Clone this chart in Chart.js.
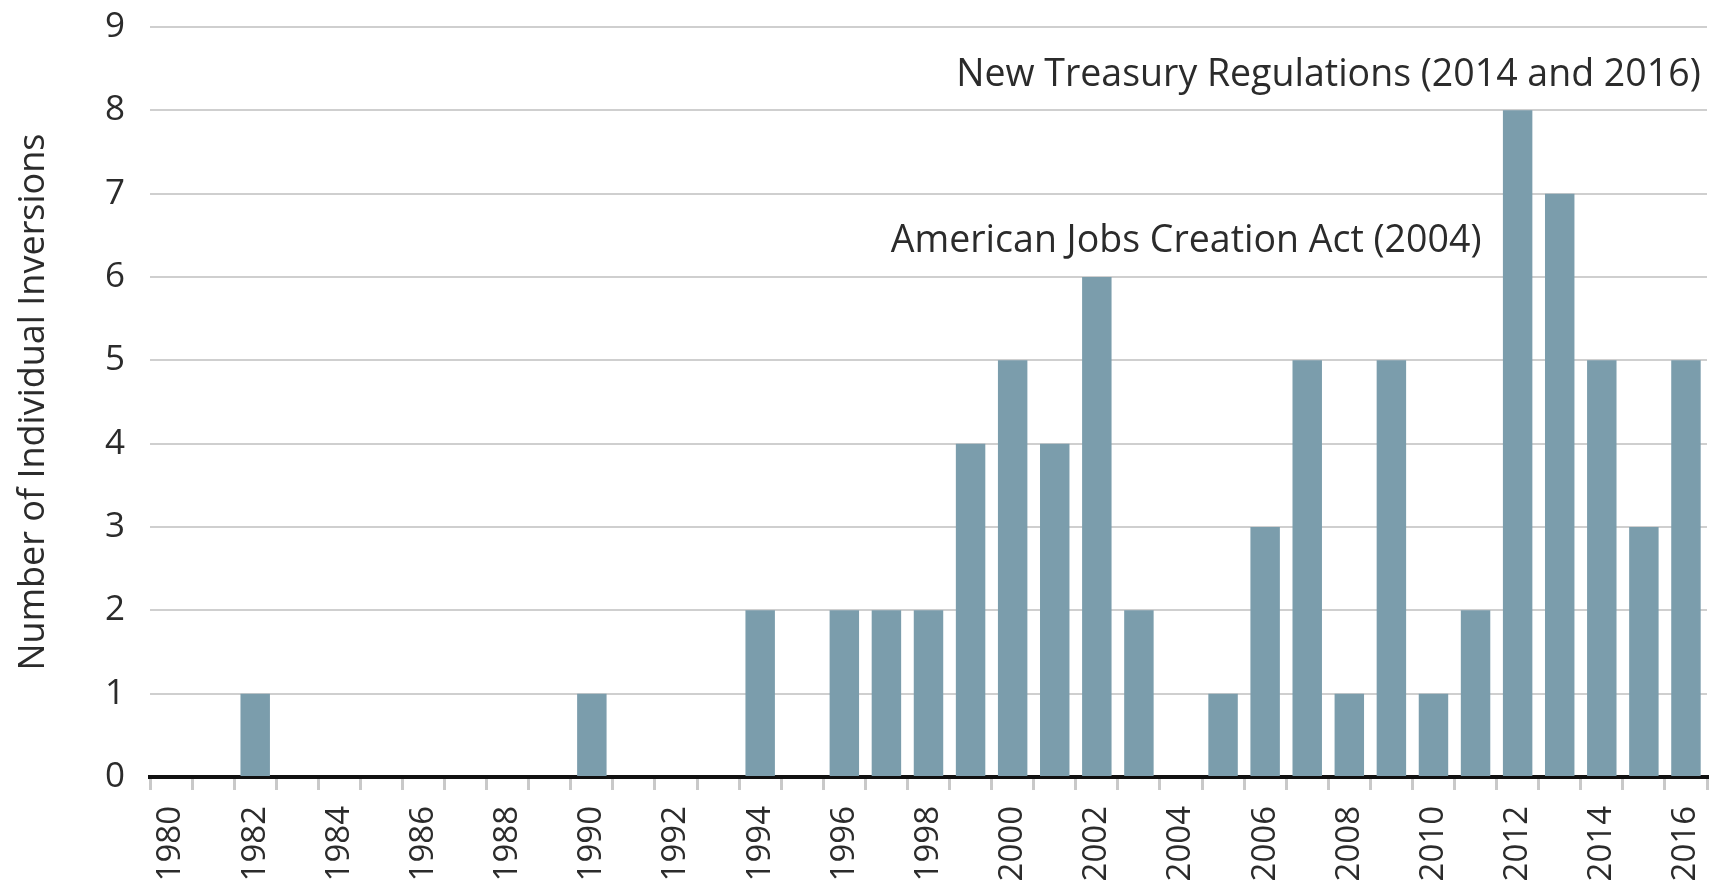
<!DOCTYPE html>
<html>
<head>
<meta charset="utf-8">
<script src="https://cdn.jsdelivr.net/npm/chart.js@4"></script>
<style>
  html, body { margin: 0; padding: 0; background: #fff; }
  canvas { display: block; }
</style>
</head>
<body>
<canvas id="chart" width="1719" height="895"></canvas>
<script>
// Inversions per year
const years = [];
for (let y = 1980; y <= 2016; y++) years.push(String(y));
const inversions = [
  0, 0, 1, 0, 0, 0, 0, 0, 0, 0,   // 1980-1989
  1, 0, 0, 0, 2, 0, 2, 2, 2, 4,   // 1990-1999
  5, 4, 6, 2, 0, 1, 3, 5, 1, 5,   // 2000-2009
  1, 2, 8, 7, 5, 3, 5             // 2010-2016
];
const yTicks = [0, 1, 2, 3, 4, 5, 6, 7, 8, 9];

// Text notes: label, right edge (category index), baseline (y value)
const noteLabels = ["New Treasury Regulations (2014 and 2016)", "American Jobs Creation Act (2004)"];
const noteX = [36.35, 31.14];
const noteY = [8.29, 6.3];

const textColor = "#2b2b2b";
const fontFamily = "'Open Sans', sans-serif";

const notesPlugin = {
  id: "notes",
  afterDatasetsDraw(chart) {
    const ctx = chart.ctx;
    const xs = chart.scales.x, ys = chart.scales.y;
    ctx.save();
    ctx.font = "400 37.5px " + fontFamily;
    ctx.fillStyle = textColor;
    ctx.textAlign = "right";
    ctx.textBaseline = "alphabetic";
    noteLabels.forEach((label, i) => {
      ctx.fillText(label, xs.getPixelForValue(noteX[i]), ys.getPixelForValue(noteY[i]));
    });
    ctx.restore();
  }
};

new Chart(document.getElementById("chart"), {
  type: "bar",
  data: {
    labels: years,
    datasets: [{
      data: inversions,
      backgroundColor: "rgb(123,157,172)",
      barPercentage: 0.7,
      categoryPercentage: 1.0
    }]
  },
  options: {
    responsive: false,
    animation: false,
    devicePixelRatio: 1,
    layout: { padding: { top: 27, right: 12, left: 0, bottom: 0 } },
    plugins: { legend: { display: false }, tooltip: { enabled: false } },
    scales: {
      x: {
        grid: {
          offset: true,
          drawOnChartArea: false,
          drawTicks: true,
          tickLength: 13,
          color: "#c9c9c9",
          lineWidth: 3
        },
        border: { display: true, color: "#111", width: 4 },
        ticks: {
          autoSkip: false,
          maxRotation: 90,
          minRotation: 90,
          padding: 16,
          color: textColor,
          font: { family: fontFamily, size: 33, weight: 400 },
          callback: (v, i) => (i % 2 === 0 ? years[i] : "")
        },
        afterFit(scale) {
          scale.height = 118;
          scale.paddingLeft = 0;
          scale.paddingRight = 0;
        }
      },
      y: {
        min: 0,
        max: 9,
        afterBuildTicks(scale) {
          scale.ticks = yTicks.map(v => ({ value: v }));
        },
        grid: { drawTicks: false, color: "#cfcfcf", lineWidth: 2 },
        border: { display: false },
        ticks: {
          padding: 25,
          color: textColor,
          font: { family: fontFamily, size: 35, weight: 400 }
        },
        title: {
          display: true,
          text: "Number of Individual Inversions",
          color: textColor,
          font: { family: fontFamily, size: 36, weight: 400 },
          padding: { top: 12, bottom: 0 }
        },
        afterFit(scale) {
          scale.width = 150;
          scale.paddingTop = 0;
          scale.paddingBottom = 0;
        }
      }
    }
  },
  plugins: [notesPlugin]
});
</script>
</body>
</html>
